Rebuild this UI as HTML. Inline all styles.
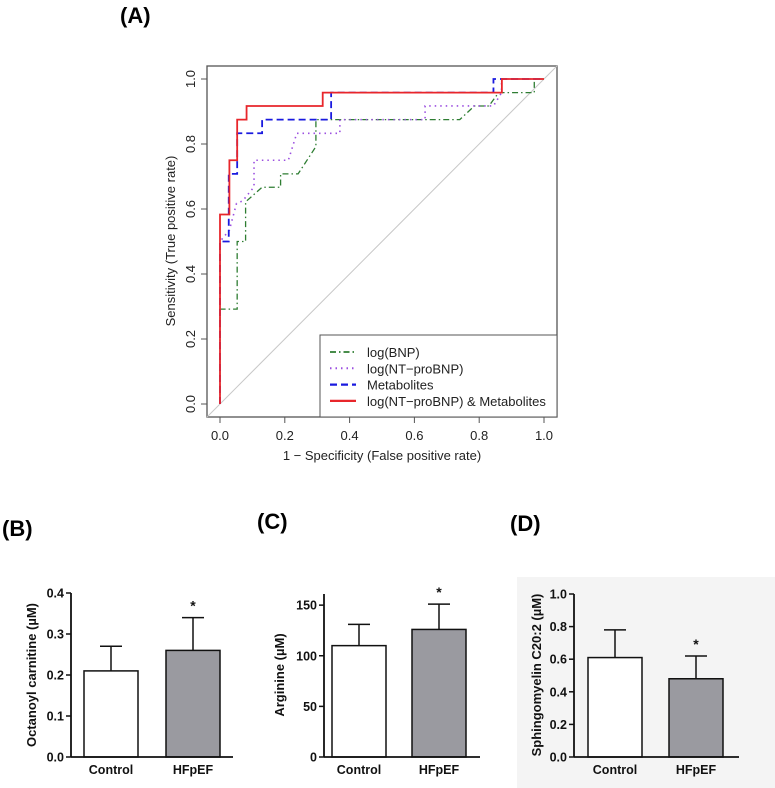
<!DOCTYPE html>
<html><head><meta charset="utf-8"><style>
body{margin:0;background:#fff}
svg{display:block}
.r{font-family:"Liberation Sans",sans-serif;font-size:13px;fill:#222}
.b{font-family:"Liberation Sans",sans-serif;font-size:12.5px;font-weight:bold;fill:#111}
.lab{font-family:"Liberation Sans",sans-serif;font-size:22px;font-weight:bold;fill:#000}
</style></head><body>
<svg id="s" width="775" height="788" xmlns="http://www.w3.org/2000/svg">
<rect x="517" y="577" width="258" height="211" fill="#f4f4f4"/>
<text class="lab" x="120" y="23">(A)</text>
<text class="lab" x="2" y="536" transform="scale(1,1)">(B)</text>
<text class="lab" x="257" y="529">(C)</text>
<text class="lab" x="510" y="531">(D)</text>
<g id="roc"></g>
<g id="bars"></g>
</svg>
<script>
const NS='http://www.w3.org/2000/svg';
const rocTicks=[0,0.2,0.4,0.6,0.8,1.0];
const rocTickLabels=['0.0','0.2','0.4','0.6','0.8','1.0'];
const bnpFpr=[0,0,0.053,0.053,0.079,0.079,0.13,0.187,0.187,0.241,0.296,0.296,0.74,0.785,0.83,0.86,0.97,0.97,1.0];
const bnpTpr=[0,0.292,0.292,0.5,0.5,0.622,0.667,0.667,0.708,0.708,0.792,0.875,0.875,0.917,0.917,0.958,0.958,1.0,1.0];
const ntFpr=[0,0,0.029,0.051,0.07,0.105,0.105,0.211,0.237,0.37,0.37,0.633,0.633,0.844,0.869,0.869,1.0];
const ntTpr=[0,0.5,0.535,0.617,0.625,0.668,0.75,0.75,0.833,0.833,0.875,0.875,0.917,0.917,0.958,1.0,1.0];
const metFpr=[0,0,0.027,0.027,0.053,0.053,0.13,0.13,0.343,0.343,0.844,0.844,1.0];
const metTpr=[0,0.5,0.5,0.708,0.708,0.833,0.833,0.875,0.875,0.958,0.958,1.0,1.0];
const combFpr=[0,0,0.029,0.029,0.053,0.053,0.082,0.082,0.317,0.317,0.87,0.87,1.0];
const combTpr=[0,0.583,0.583,0.75,0.75,0.875,0.875,0.917,0.917,0.958,0.958,1.0,1.0];
const legendLabels=['log(BNP)','log(NT\u2212proBNP)','Metabolites','log(NT\u2212proBNP) & Metabolites'];

const barCategories=['Control','HFpEF'];
const octMeans=[0.21,0.26], octErr=[0.06,0.08], octTicks=[0,0.1,0.2,0.3,0.4], octTickLabels=['0.0','0.1','0.2','0.3','0.4'];
const argMeans=[110,126], argErr=[21,25], argTicks=[0,50,100,150], argTickLabels=['0','50','100','150'];
const sphMeans=[0.61,0.48], sphErr=[0.17,0.14], sphTicks=[0,0.2,0.4,0.6,0.8,1.0], sphTickLabels=['0.0','0.2','0.4','0.6','0.8','1.0'];

function el(tag,attrs,parent,text){const e=document.createElementNS(NS,tag);for(const k in attrs)e.setAttribute(k,attrs[k]);if(text!==undefined)e.textContent=text;parent.appendChild(e);return e;}

// ROC
const roc=document.getElementById('roc');
const X=v=>220+v*324, Y=v=>404-v*325;
let e;
e=el('rect',{x:207,y:66,width:350,height:351,fill:'none',stroke:'#555','stroke-width':1.3},roc);


e=el('line',{x1:X(-0.04),y1:Y(-0.04),x2:X(1.04),y2:Y(1.04),stroke:'#c8c8c8','stroke-width':1},roc);


rocTicks.forEach((t,i)=>{
  e=el('line',{x1:X(t),y1:417,x2:X(t),y2:423,stroke:'#555'},roc);
  
  
  e=el('text',{x:X(t),y:440,'text-anchor':'middle',class:'r'},roc,rocTickLabels[i]);
  
  
  e=el('line',{x1:201,y1:Y(t),x2:207,y2:Y(t),stroke:'#555'},roc);
  
  
  e=el('text',{x:0,y:0,'text-anchor':'middle',class:'r',transform:`translate(195,${Y(t)}) rotate(-90)`},roc,rocTickLabels[i]);
  
  
});
e=el('text',{x:382,y:460,'text-anchor':'middle',class:'r'},roc,'1 \u2212 Specificity (False positive rate)');


e=el('text',{x:0,y:0,'text-anchor':'middle',class:'r',transform:'translate(175,241) rotate(-90)'},roc,'Sensitivity (True positive rate)');


const series=[
 {f:bnpFpr,t:bnpTpr,c:'#2e7d32',d:'6,3,1.5,3',w:1.3,n:'bnp-curve'},
 {f:ntFpr,t:ntTpr,c:'#9b4fe0',d:'1.5,4',w:1.6,n:'ntprobnp-curve'},
 {f:metFpr,t:metTpr,c:'#1a1adf',d:'7,4',w:1.8,n:'metabolites-curve'},
 {f:combFpr,t:combTpr,c:'#e8262b',d:'',w:1.8,n:'combined-curve'}];
series.forEach(s=>{
  const p=s.f.map((v,i)=>X(v)+','+Y(s.t[i])).join(' ');
  e=el('polyline',{points:p,fill:'none',stroke:s.c,'stroke-width':s.w,'stroke-dasharray':s.d},roc);
  
  
});
e=el('rect',{x:320,y:335,width:237,height:82,fill:'#fff',stroke:'#555','stroke-width':1},roc);


series.forEach((s,i)=>{
  const y=352+i*16.3;
  e=el('line',{x1:330,y1:y,x2:356,y2:y,stroke:s.c,'stroke-width':s.w+0.4,'stroke-dasharray':s.d},roc);
  
  
  e=el('text',{x:367,y:y+5,class:'r'},roc,legendLabels[i]);
  
  
});

// Bars
const bars=document.getElementById('bars');
function barChart(cfg){
  const g=el('g',{},bars);
  
  
  const y0=757,yTop=cfg.yTop,max=cfg.max;
  const Yb=v=>y0-v/max*(y0-yTop);
  cfg.ticks.forEach((t,i)=>{
    e=el('line',{x1:cfg.ax-5,y1:Yb(t),x2:cfg.ax,y2:Yb(t),stroke:'#111','stroke-width':1.5},g);
    
    
    e=el('text',{x:cfg.ax-7,y:Yb(t)+4.5,'text-anchor':'end',class:'b'},g,cfg.labels[i]);
    
    
  });
  cfg.means.forEach((m,i)=>{
    const bx=cfg.bx[i],bw=54,cx=bx+bw/2,top=Yb(m),et=Yb(m+cfg.err[i]);
    e=el('line',{x1:cx,y1:top,x2:cx,y2:et,stroke:'#111','stroke-width':1.5},g);
    
    
    e=el('line',{x1:cx-11,y1:et,x2:cx+11,y2:et,stroke:'#111','stroke-width':1.5},g);
    
    
    e=el('rect',{x:bx,y:top,width:bw,height:y0-top,fill:i?'#9a9aa0':'#fff',stroke:'#111','stroke-width':1.5},g);
    
    
    e=el('text',{x:cx,y:774,'text-anchor':'middle',class:'b'},g,barCategories[i]);
    
    
    if(i===1){
      e=el('text',{x:cx,y:et-7,'text-anchor':'middle',class:'b',style:'font-size:14px'},g,'*');
      
      
    }
  });
  e=el('line',{x1:cfg.ax,y1:yTop,x2:cfg.ax,y2:y0,stroke:'#111','stroke-width':1.8},g);
  
  
  e=el('line',{x1:cfg.ax,y1:y0,x2:cfg.xr,y2:y0,stroke:'#111','stroke-width':1.8},g);
  
  
  e=el('text',{x:0,y:0,'text-anchor':'middle',class:'b',style:'font-size:13px',transform:`translate(${cfg.tx},675) rotate(-90)`},g,cfg.title);
  
  
}
barChart({name:'octanoyl-carnitine-chart',ax:71,xr:233,yTop:593,max:0.4,ticks:octTicks,labels:octTickLabels,means:octMeans,err:octErr,bx:[84,166],tx:36,title:'Octanoyl carnitine (\u00b5M)'});
barChart({name:'arginine-chart',ax:324,xr:480,yTop:594,max:161,ticks:argTicks,labels:argTickLabels,means:argMeans,err:argErr,bx:[332,412],tx:284,title:'Arginine (\u00b5M)'});
barChart({name:'sphingomyelin-chart',ax:574,xr:739,yTop:594,max:1.0,ticks:sphTicks,labels:sphTickLabels,means:sphMeans,err:sphErr,bx:[588,669],tx:541,title:'Sphingomyelin C20:2 (\u00b5M)'});
</script>
</body></html>
